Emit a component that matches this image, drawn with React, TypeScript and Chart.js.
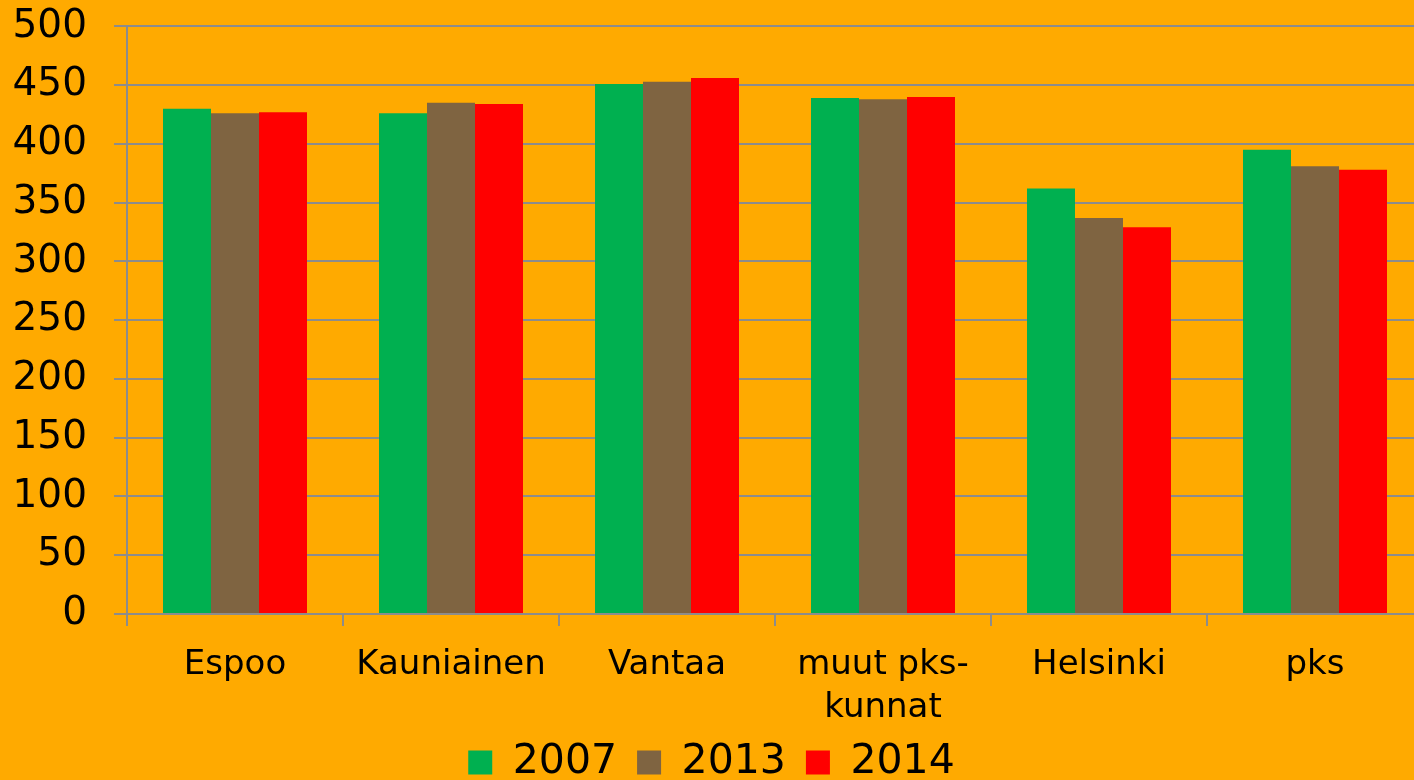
import React, { useEffect, useRef } from "react";
import { Chart, registerables } from "chart.js";

Chart.register(...registerables);

const categories: (string | string[])[] = ["Espoo", "Kauniainen", "Vantaa", ["muut pks-", "kunnat"], "Helsinki", "pks"];
const seriesNames = ["2007", "2013", "2014"];
const values2007 = [430, 426, 451, 439, 362, 395];
const values2013 = [426, 435, 453, 438, 337, 381];
const values2014 = [427, 434, 456, 440, 329, 378];
const seriesColors = ["#00B050", "#7F6441", "#FF0000"];
const yTicksMax = 500;
const yTicksStep = 50;

const FONT = "'DejaVu Sans', sans-serif";
const GRID = "#8C8C8C";

export default function App() {
  const ref = useRef<HTMLCanvasElement | null>(null);
  useEffect(() => {
    if (!ref.current) return;
    const chart = new Chart(ref.current, {
      type: "bar",
      data: {
        labels: categories,
        datasets: [values2007, values2013, values2014].map((d, i) => ({
          label: seriesNames[i],
          data: d,
          backgroundColor: seriesColors[i],
          borderWidth: 0,
          categoryPercentage: 0.6667,
          barPercentage: 1,
        })),
      },
      options: {
        animation: false,
        responsive: false,
        maintainAspectRatio: false,
        layout: { padding: { top: 0, right: 22, left: 0, bottom: 0 } },
        plugins: {
          tooltip: { enabled: false },
          legend: {
            position: "bottom",
            labels: {
              boxWidth: 24,
              boxHeight: 24,
              padding: 20,
              color: "#000",
              font: { family: FONT, size: 41 },
            },
          },
        },
        scales: {
          x: {
            afterFit: (s: any) => { s.height = 108; },
            grid: { offset: true, drawOnChartArea: false, color: GRID, lineWidth: 2, tickLength: 12 },
            border: { display: true, color: GRID, width: 2 },
            ticks: { color: "#000", padding: 18, maxRotation: 0, autoSkip: false, font: { family: FONT, size: 34, lineHeight: 1.25 } },
          },
          y: {
            min: 0,
            max: yTicksMax,
            afterFit: (s: any) => { s.width = 127; },
            grid: { color: GRID, lineWidth: 2, tickLength: 13 },
            border: { display: true, color: GRID, width: 2 },
            ticks: { stepSize: yTicksStep, color: "#000", padding: 27, font: { family: FONT, size: 39 } },
          },
        },
      },
    });
    return () => chart.destroy();
  }, []);
  return (
    <div style={{ position: "fixed", left: 0, top: 0, width: 1414, height: 780, overflow: "hidden", background: "#FFAA00" }}>
      <canvas ref={ref} width={1445} height={817} style={{ display: "block", width: 1445, height: 817, marginTop: -24 }} />
    </div>
  );
}
